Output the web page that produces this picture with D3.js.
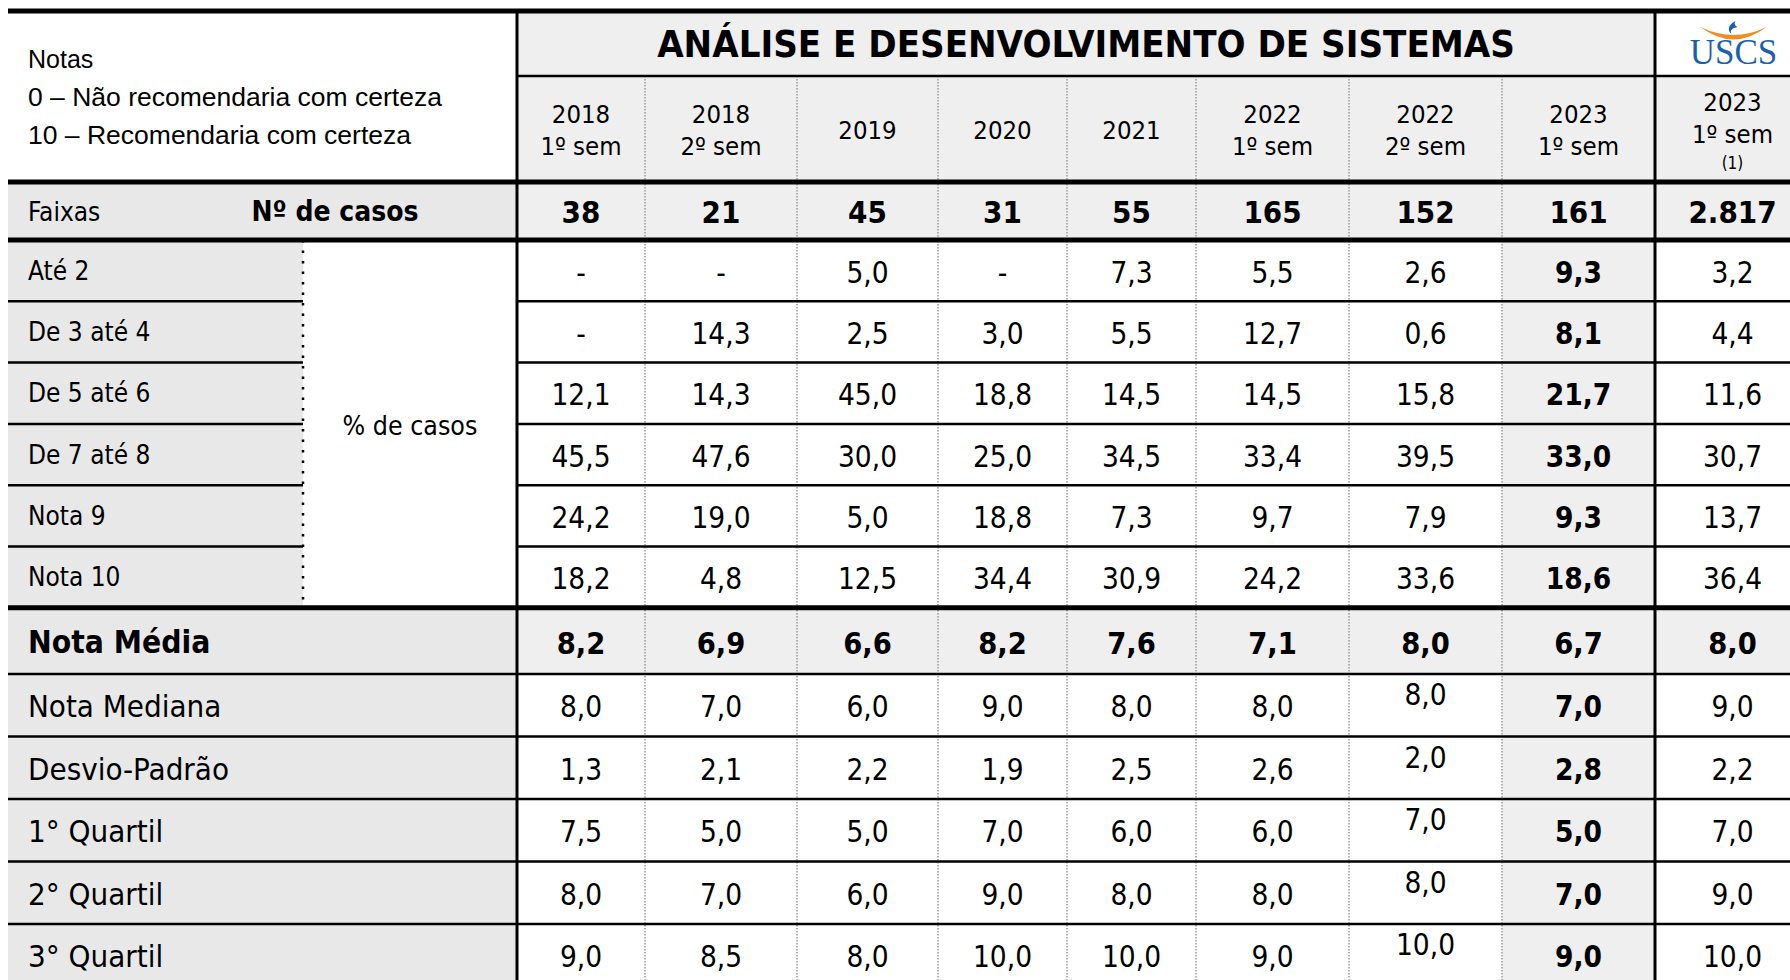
<!DOCTYPE html>
<html>
<head>
<meta charset="utf-8">
<script src="https://cdn.jsdelivr.net/npm/d3@7"></script>
<style>
  html, body { margin: 0; padding: 0; background: #fff; }
  svg { display: block; }
  .t { font-family: "DejaVu Sans Condensed", "DejaVu Sans", sans-serif; font-stretch: condensed; fill: #000; }
  .a { font-family: "Liberation Sans", Arial, sans-serif; fill: #000; }
</style>
</head>
<body>
<svg id="chart" width="1790" height="980"></svg>
<script>
const title = "ANÁLISE E DESENVOLVIMENTO DE SISTEMAS";
const periodYears = ["2018", "2018", "2019", "2020", "2021", "2022", "2022", "2023", "2023"];
const periodSems  = ["1º sem", "2º sem", "", "", "", "1º sem", "2º sem", "1º sem", "1º sem"];
const periodNotes = ["", "", "", "", "", "", "", "", "(1)"];
const casos = [38, 21, 45, 31, 55, 165, 152, 161, 2817];

const faixaLabels = ["Até 2", "De 3 até 4", "De 5 até 6", "De 7 até 8", "Nota 9", "Nota 10"];
const ate2   = [null, null, 5.0, null, 7.3, 5.5, 2.6, 9.3, 3.2];
const de3a4  = [null, 14.3, 2.5, 3.0, 5.5, 12.7, 0.6, 8.1, 4.4];
const de5a6  = [12.1, 14.3, 45.0, 18.8, 14.5, 14.5, 15.8, 21.7, 11.6];
const de7a8  = [45.5, 47.6, 30.0, 25.0, 34.5, 33.4, 39.5, 33.0, 30.7];
const nota9  = [24.2, 19.0, 5.0, 18.8, 7.3, 9.7, 7.9, 9.3, 13.7];
const nota10 = [18.2, 4.8, 12.5, 34.4, 30.9, 24.2, 33.6, 18.6, 36.4];

const notaMedia = [8.2, 6.9, 6.6, 8.2, 7.6, 7.1, 8.0, 6.7, 8.0];
const statLabels = ["Nota Mediana", "Desvio-Padrão", "1° Quartil", "2° Quartil", "3° Quartil"];
const mediana = [8.0, 7.0, 6.0, 9.0, 8.0, 8.0, 8.0, 7.0, 9.0];
const desvio  = [1.3, 2.1, 2.2, 1.9, 2.5, 2.6, 2.0, 2.8, 2.2];
const quart1  = [7.5, 5.0, 5.0, 7.0, 6.0, 6.0, 7.0, 5.0, 7.0];
const quart2  = [8.0, 7.0, 6.0, 9.0, 8.0, 8.0, 8.0, 7.0, 9.0];
const quart3  = [9.0, 8.5, 8.0, 10.0, 10.0, 9.0, 10.0, 9.0, 10.0];

const faixaRows = [ate2, de3a4, de5a6, de7a8, nota9, nota10];
const statRows = [mediana, desvio, quart1, quart2, quart3];

// ---- layout ----
const W = 1790;
const left = 8, labelSplit = 303, dataLeft = 517;
const colWidths = [128, 152, 141, 129, 129, 153, 153, 153, 155];
const colEdges = [dataLeft].concat(Array.from(d3.cumsum(colWidths), d => dataLeft + d));
const colX = i => colEdges[i];
const colC = i => (colEdges[i] + colEdges[i + 1]) / 2;
const boldCol = 7;        // 2023 1º sem, highlighted
const shiftCol = 6;       // 2022 2º sem values sit higher in the stat rows

const yTop = 11, yTitle = 76, yHead = 182, yCasos = 240;
const faixaY = d3.range(7).map(i => yCasos + i * 61.3);
const yFaixaEnd = faixaY[6];
const statY = [yFaixaEnd, 674].concat(d3.range(1, 6).map(i => 674 + i * 62.5));

const greyLabel = "#e8e8e8", greyData = "#efefef";
const fmt = v => v == null ? "-" : d3.format(".1f")(v).replace(".", ",");
const fmtInt = v => d3.format(",")(v).replace(/,/g, ".");

const svg = d3.select("#chart");
const bg = svg.append("g"), txt = svg.append("g"), lines = svg.append("g");

// ---- backgrounds ----
bg.append("rect").attr("x", dataLeft).attr("y", yTop).attr("width", colX(8) - dataLeft).attr("height", yTitle - yTop).attr("fill", greyData);
bg.append("rect").attr("x", dataLeft).attr("y", yTitle).attr("width", W - dataLeft).attr("height", yHead - yTitle).attr("fill", greyData);
bg.append("rect").attr("x", left).attr("y", yHead).attr("width", dataLeft - left).attr("height", yCasos - yHead).attr("fill", greyLabel);
bg.append("rect").attr("x", dataLeft).attr("y", yHead).attr("width", W - dataLeft).attr("height", yCasos - yHead).attr("fill", greyData);
// faixa labels
bg.selectAll(".fl").data(faixaLabels).join("rect")
  .attr("x", left).attr("y", (d, i) => faixaY[i]).attr("width", labelSplit - left)
  .attr("height", (d, i) => faixaY[i + 1] - faixaY[i]).attr("fill", greyLabel);
// highlighted column
bg.append("rect").attr("x", colX(boldCol)).attr("y", yCasos).attr("width", colWidths[boldCol])
  .attr("height", 980 - yCasos).attr("fill", greyData);
// nota media row
bg.append("rect").attr("x", left).attr("y", statY[0]).attr("width", dataLeft - left).attr("height", statY[1] - statY[0]).attr("fill", greyLabel);
bg.append("rect").attr("x", dataLeft).attr("y", statY[0]).attr("width", W - dataLeft).attr("height", statY[1] - statY[0]).attr("fill", greyData);
// stat labels
bg.selectAll(".sl").data(statLabels).join("rect")
  .attr("x", left).attr("y", (d, i) => statY[i + 1]).attr("width", dataLeft - left)
  .attr("height", (d, i) => statY[i + 2] - statY[i + 1]).attr("fill", greyLabel);

// ---- header texts ----
txt.append("text").attr("class", "a").attr("x", 28).attr("y", 68).attr("font-size", 25).text("Notas");
txt.append("text").attr("class", "a").attr("x", 28).attr("y", 106).attr("font-size", 26.5).text("0 – Não recomendaria com certeza");
txt.append("text").attr("class", "a").attr("x", 28).attr("y", 144).attr("font-size", 26.5).text("10 – Recomendaria com certeza");

txt.append("text").attr("class", "t").attr("x", (dataLeft + colX(8)) / 2).attr("y", 57)
  .attr("text-anchor", "middle").attr("font-size", 38).attr("font-weight", "bold").text(title);

const head = txt.selectAll(".hd").data(periodYears).join("g");
head.append("text").attr("class", "t").attr("text-anchor", "middle").attr("font-size", 25.5)
  .attr("x", (d, i) => colC(i))
  .attr("y", (d, i) => periodNotes[i] ? 111 : (periodSems[i] ? 123 : 139))
  .text(d => d);
head.append("text").attr("class", "t").attr("text-anchor", "middle").attr("font-size", 25.5)
  .attr("x", (d, i) => colC(i))
  .attr("y", (d, i) => periodNotes[i] ? 143 : 155)
  .text((d, i) => periodSems[i]);
head.append("text").attr("class", "t").attr("text-anchor", "middle").attr("font-size", 17)
  .attr("x", (d, i) => colC(i)).attr("y", 169)
  .text((d, i) => periodNotes[i]);

// logo cell
const logo = txt.append("g").attr("transform", `translate(${(colX(8) + W) / 2 + 11},0)`);
logo.append("path").attr("fill", "#f28c1e")
  .attr("d", "M-33,27 Q0,52 33,27 Q0,43 -33,27 Z");
logo.append("path").attr("fill", "#1a5fb5")
  .attr("d", "M2,21 C-6,25 -6,31 -2,34 C-4,30 -1,28 4,27 C2,26 0,24 2,21 Z");
logo.append("text").attr("text-anchor", "middle").attr("y", 64).attr("font-size", 35)
  .attr("font-family", "'Liberation Serif', 'Times New Roman', serif").attr("fill", "#1a5fb5").text("USCS");

// ---- casos row ----
txt.append("text").attr("class", "t").attr("x", 28).attr("y", 221).attr("font-size", 26).text("Faixas");
txt.append("text").attr("class", "t").attr("x", 335).attr("y", 221).attr("text-anchor", "middle")
  .attr("font-size", 28).attr("font-weight", "bold").text("Nº de casos");
txt.selectAll(".cs").data(casos).join("text").attr("class", "t")
  .attr("x", (d, i) => colC(i)).attr("y", 223).attr("text-anchor", "middle")
  .attr("font-size", 31).attr("font-weight", "bold").text(fmtInt);

// ---- faixas ----
txt.selectAll(".flt").data(faixaLabels).join("text").attr("class", "t")
  .attr("x", 28).attr("y", (d, i) => (faixaY[i] + faixaY[i + 1]) / 2 + 9)
  .attr("font-size", 26).text(d => d);
txt.append("text").attr("class", "t").attr("x", (labelSplit + dataLeft) / 2).attr("y", (yCasos + yFaixaEnd) / 2 + 11)
  .attr("text-anchor", "middle").attr("font-size", 26.5).text("% de casos");

faixaRows.forEach((row, r) => {
  txt.append("g").selectAll("text").data(row).join("text").attr("class", "t")
    .attr("x", (d, i) => colC(i))
    .attr("y", (faixaY[r] + faixaY[r + 1]) / 2 + 12)
    .attr("text-anchor", "middle").attr("font-size", 29.5)
    .attr("font-weight", (d, i) => i === boldCol ? "bold" : null)
    .text(fmt);
});

// ---- stats ----
txt.append("text").attr("class", "t").attr("x", 28).attr("y", (statY[0] + statY[1]) / 2 + 12)
  .attr("font-size", 31.5).attr("font-weight", "bold").text("Nota Média");
txt.append("g").selectAll("text").data(notaMedia).join("text").attr("class", "t")
  .attr("x", (d, i) => colC(i)).attr("y", (statY[0] + statY[1]) / 2 + 13)
  .attr("text-anchor", "middle").attr("font-size", 30.5).attr("font-weight", "bold").text(fmt);

txt.selectAll(".slt").data(statLabels).join("text").attr("class", "t")
  .attr("x", 28).attr("y", (d, i) => (statY[i + 1] + statY[i + 2]) / 2 + 12)
  .attr("font-size", 31).text(d => d);
statRows.forEach((row, r) => {
  const cy = (statY[r + 1] + statY[r + 2]) / 2;
  txt.append("g").selectAll("text").data(row).join("text").attr("class", "t")
    .attr("x", (d, i) => colC(i))
    .attr("y", (d, i) => cy + 12 - (i === shiftCol ? 12 : 0))
    .attr("text-anchor", "middle").attr("font-size", 29.5)
    .attr("font-weight", (d, i) => i === boldCol ? "bold" : null)
    .text(fmt);
});

// ---- rules ----
const hline = (x1, x2, y, w) => lines.append("line").attr("x1", x1).attr("x2", x2).attr("y1", y).attr("y2", y)
  .attr("stroke", "#000").attr("stroke-width", w);
const vline = (x, y1, y2, w) => lines.append("line").attr("x1", x).attr("x2", x).attr("y1", y1).attr("y2", y2)
  .attr("stroke", "#000").attr("stroke-width", w);

// dotted column separators
lines.selectAll(".dc").data(d3.range(1, 8)).join("line")
  .attr("x1", colX).attr("x2", colX).attr("y1", yTitle).attr("y2", 980)
  .attr("stroke", "#9a9a9a").attr("stroke-width", 1.5).attr("stroke-dasharray", "1.5,1.5");
// dotted split in faixas labels
vline(labelSplit, yCasos, yFaixaEnd, 2.5).attr("stroke-dasharray", "2.5,8");

hline(left, W, yTop, 5);
hline(dataLeft, W, yTitle, 2.5);
hline(left, W, yHead, 5);
hline(left, W, yCasos, 5);
faixaY.slice(1, 6).forEach(y => { hline(left, labelSplit, y, 2.5); hline(dataLeft, W, y, 2.5); });
hline(left, W, yFaixaEnd, 5);
statY.slice(1, 6).forEach(y => hline(left, W, y, 2.5));
vline(dataLeft, yTop, 980, 3);
vline(colX(8), yTop, 980, 3);
</script>
</body>
</html>
